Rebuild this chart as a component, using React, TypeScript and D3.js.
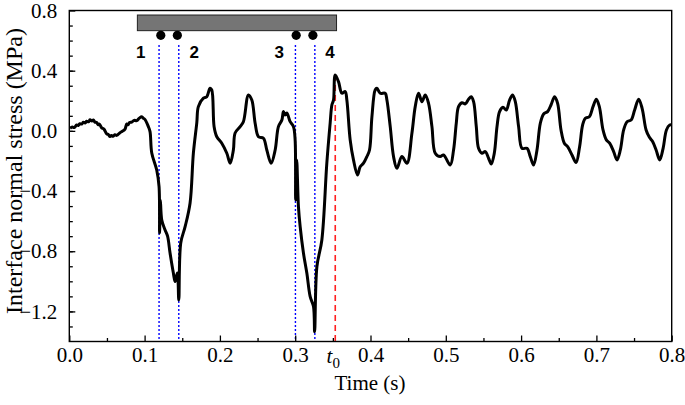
import * as d3 from "d3";
import { useEffect, useRef } from "react";

// measured stress trace, time in s, stress in MPa
const time = [
  0.001, 0.004, 0.0065, 0.0098, 0.012, 0.014, 0.0165, 0.0186, 0.021, 0.023,
  0.0255, 0.0275, 0.03, 0.0319, 0.034, 0.0364, 0.0385, 0.04, 0.043, 0.046,
  0.0497, 0.052, 0.0541, 0.056, 0.058, 0.0607, 0.063, 0.0674, 0.07, 0.074,
  0.0763, 0.078, 0.08, 0.0829, 0.086, 0.0896, 0.093, 0.0962, 0.098, 0.1006,
  0.105, 0.1072, 0.1095, 0.1161, 0.1192, 0.1199, 0.1209, 0.1228, 0.1272, 0.1305,
  0.1338, 0.1382, 0.1405, 0.1435, 0.1454, 0.148, 0.1538, 0.1604, 0.1648, 0.1693,
  0.1714, 0.1781, 0.1826, 0.1869, 0.1892, 0.1923, 0.1959, 0.2025, 0.2092, 0.2136,
  0.2179, 0.2202, 0.2269, 0.2312, 0.2379, 0.2424, 0.2468, 0.2512, 0.2578, 0.2623,
  0.268, 0.2734, 0.2777, 0.2823, 0.2844, 0.2866, 0.2889, 0.2933, 0.2977, 0.2999,
  0.3006, 0.302, 0.3043, 0.3066, 0.311, 0.3155, 0.3199, 0.3243, 0.3258, 0.3288,
  0.3354, 0.342, 0.3464, 0.3487, 0.3509, 0.3531, 0.3575, 0.362, 0.3664, 0.3686,
  0.373, 0.3774, 0.3827, 0.3863, 0.3907, 0.3952, 0.3987, 0.4019, 0.4062, 0.4085,
  0.4129, 0.4195, 0.4218, 0.4262, 0.4306, 0.4351, 0.4417, 0.4484, 0.455, 0.4594,
  0.4638, 0.4683, 0.4727, 0.4771, 0.4816, 0.486, 0.4926, 0.497, 0.5059, 0.5103,
  0.5139, 0.5169, 0.5215, 0.5259, 0.5302, 0.5338, 0.5369, 0.5405, 0.5435, 0.548,
  0.5524, 0.5568, 0.5604, 0.5644, 0.568, 0.5714, 0.5759, 0.5803, 0.5847, 0.5887,
  0.5923, 0.5967, 0.6012, 0.6078, 0.6122, 0.6166, 0.6211, 0.6255, 0.6299, 0.6352,
  0.6397, 0.6445, 0.6485, 0.653, 0.6574, 0.6618, 0.6676, 0.673, 0.6777, 0.6817,
  0.6853, 0.6906, 0.6955, 0.6999, 0.7039, 0.7088, 0.7132, 0.7176, 0.7229, 0.7274,
  0.7318, 0.7362, 0.7407, 0.746, 0.7508, 0.7561, 0.7607, 0.766, 0.7704, 0.7748,
  0.7793, 0.7841, 0.7886, 0.793, 0.7973, 0.8,
];
const stress = [
  0.017, 0.025, 0.022, 0.039, 0.036, 0.048, 0.045, 0.058, 0.052, 0.064,
  0.06, 0.074, 0.066, 0.072, 0.058, 0.055, 0.04, 0.045, 0.02, 0.012,
  -0.02, -0.025, -0.038, -0.03, -0.036, -0.026, -0.03, -0.012, -0.004, 0.012,
  0.046, 0.04, 0.056, 0.058, 0.07, 0.068, 0.085, 0.094, 0.085, 0.075,
  0.028, -0.005, -0.147, -0.26, -0.371, -0.679, -0.46, -0.592, -0.659, -0.7,
  -0.812, -0.945, -1.002, -0.945, -1.124, -0.745, -0.637, -0.479, -0.147, 0.053,
  0.161, 0.217, 0.227, 0.283, 0.272, 0.028, -0.039, -0.082, -0.149, -0.215,
  -0.127, -0.014, 0.028, 0.061, 0.239, 0.205, 0.051, -0.039, -0.049, -0.127,
  -0.215, -0.127, 0.028, 0.072, 0.128, 0.106, 0.119, 0.061, 0.028, -0.06,
  -0.459, -0.193, -0.504, -0.637, -0.814, -0.947, -1.102, -1.168, -1.335, -0.903,
  -0.725, -0.215, 0.05, 0.172, 0.205, 0.372, 0.327, 0.25, 0.261, 0.205,
  -0.06, -0.193, -0.293, -0.238, -0.215, -0.171, -0.127, 0.094, 0.272, 0.283,
  0.25, 0.25, 0.205, 0.028, -0.171, -0.249, -0.171, -0.215, -0.016, 0.161,
  0.25, 0.194, 0.239, 0.183, 0.028, -0.149, -0.171, -0.16, -0.227, -0.127,
  0.05, 0.161, 0.187, 0.179, 0.21, 0.227, 0.194, 0.028, -0.116, -0.149,
  -0.138, -0.182, -0.22, -0.149, 0.028, 0.128, 0.157, 0.139, 0.205, 0.239,
  0.194, 0.028, -0.116, -0.116, -0.171, -0.227, -0.127, 0.05, 0.112, 0.128,
  0.172, 0.227, 0.183, 0.006, -0.082, -0.105, -0.16, -0.211, -0.105, 0.039,
  0.084, 0.094, 0.161, 0.21, 0.161, 0.006, -0.06, -0.082, -0.138, -0.193,
  -0.127, 0.006, 0.061, 0.072, 0.139, 0.21, 0.15, 0.006, -0.043, -0.072,
  -0.127, -0.193, -0.116, 0.006, 0.039, 0.039,
];

// sensor annotations
const sensorLines = [0.1192, 0.1454, 0.3003, 0.3261];
const sensorDots = [0.1215, 0.1435, 0.3013, 0.3235];
const sensorLabels = ["1", "2", "3", "4"];
const labelShift = [-20, 17, -17, 17];
const t0 = 0.3532;
const t0Stress = 0.372;
const barRange = [0.0904, 0.3549];
const barStress = [0.666, 0.77];

const xTicks = [0, 0.1, 0.2, 0.3, 0.4, 0.5, 0.6, 0.7, 0.8];
const yTicks = [-1.2, -0.8, -0.4, 0.0, 0.4, 0.8];

const W = 685;
const H = 405;
const margin = { top: 10.5, right: 13.3, bottom: 63.5, left: 69.3 };
const serif = "Liberation Serif, Times New Roman, serif";

export default function App() {
  const xAxisRef = useRef<SVGGElement>(null);
  const yAxisRef = useRef<SVGGElement>(null);

  const x = d3.scaleLinear().domain([0, 0.8]).range([margin.left, W - margin.right]);
  const y = d3.scaleLinear().domain([-1.4, 0.8]).range([H - margin.bottom, margin.top]);

  const data = time.map((t, i) => [t, stress[i]] as [number, number]);
  const line = d3
    .line<[number, number]>()
    .x((d) => x(d[0]))
    .y((d) => y(d[1]))
    .curve(d3.curveCatmullRom.alpha(0.5));

  useEffect(() => {
    const gx = d3.select(xAxisRef.current);
    gx.selectAll("*").remove();
    // minor ticks
    gx.append("g").call(
      d3.axisBottom(x).tickValues(d3.range(0.05, 0.8, 0.1)).tickSize(-3.5).tickFormat(() => "")
    );
    gx.append("g").call(
      d3.axisBottom(x).tickValues(xTicks).tickSize(-6).tickPadding(6).tickFormat(d3.format(".1f"))
    );
    gx.selectAll("g").attr("font-family", serif).attr("font-size", 21);
    gx.selectAll("text").style("font-family", serif).style("font-size", "21px").attr("fill", "#000");
    gx.selectAll("path.domain").remove();
    gx.selectAll("line").attr("stroke", "#000").attr("stroke-width", 1.3);

    const gy = d3.select(yAxisRef.current);
    gy.selectAll("*").remove();
    gy.append("g").call(
      d3.axisLeft(y).tickValues(d3.range(-1.3, 0.8, 0.1)).tickSize(-3.5).tickFormat(() => "")
    );
    gy.append("g").call(
      d3.axisLeft(y).tickValues(yTicks).tickSize(-6).tickPadding(12).tickFormat(d3.format(".1f"))
    );
    gy.selectAll("g").attr("font-family", serif).attr("font-size", 21);
    gy.selectAll("text").style("font-family", serif).style("font-size", "21px").attr("fill", "#000");
    gy.selectAll("path.domain").remove();
    gy.selectAll("line").attr("stroke", "#000").attr("stroke-width", 1.3);
  }, []);

  const bottom = H - margin.bottom;

  return (
    <svg width={W} height={H} style={{ position: "absolute", left: 0, top: 0, background: "#fff" }}>
      {/* bar with sensors */}
      <rect
        x={x(barRange[0])}
        y={y(barStress[1])}
        width={x(barRange[1]) - x(barRange[0])}
        height={y(barStress[0]) - y(barStress[1])}
        fill="#757575"
        stroke="#222"
        strokeWidth={1}
      />
      {sensorDots.map((t, i) => (
        <g key={i}>
          <circle cx={x(t)} cy={y(0.635)} r={4.6} fill="#000" />
          <text
            x={x(t) + labelShift[i]}
            y={y(0.526)}
            dy="0.36em"
            textAnchor="middle"
            fontFamily="Liberation Sans, Arial, sans-serif"
            fontWeight="bold"
            fontSize={17}
          >
            {sensorLabels[i]}
          </text>
        </g>
      ))}
      {sensorLines.map((t, i) => (
        <line
          key={i}
          x1={x(t)}
          x2={x(t)}
          y1={y(0.571)}
          y2={bottom}
          stroke="#0000ff"
          strokeWidth={1.4}
          strokeDasharray="2,2"
        />
      ))}
      <line
        x1={x(t0)}
        x2={x(t0)}
        y1={y(t0Stress)}
        y2={bottom}
        stroke="#ff2020"
        strokeWidth={1.6}
        strokeDasharray="6,4"
      />
      <path d={line(data) ?? ""} fill="none" stroke="#000" strokeWidth={3} strokeLinejoin="round" />

      {/* frame */}
      <rect
        x={margin.left}
        y={margin.top}
        width={W - margin.left - margin.right}
        height={H - margin.top - margin.bottom}
        fill="none"
        stroke="#000"
        strokeWidth={1.4}
      />
      <g ref={xAxisRef} transform={`translate(0,${bottom})`} />
      <g ref={yAxisRef} transform={`translate(${margin.left},0)`} />

      <text x={x(t0) - 2} y={bottom + 21.5} style={{ fontFamily: serif, fontSize: 21 }} textAnchor="middle">
        <tspan fontStyle="italic">t</tspan>
        <tspan style={{ fontSize: 15 }} dy={5}>0</tspan>
      </text>
      <text x={370} y={390} style={{ fontFamily: serif, fontSize: 21 }} textAnchor="middle">
        Time (s)
      </text>
      <text
        transform={`translate(22,${171}) rotate(-90)`}
        style={{ fontFamily: serif, fontSize: 24 }}
        textAnchor="middle"
      >
        Interface normal stress (MPa)
      </text>
    </svg>
  );
}
